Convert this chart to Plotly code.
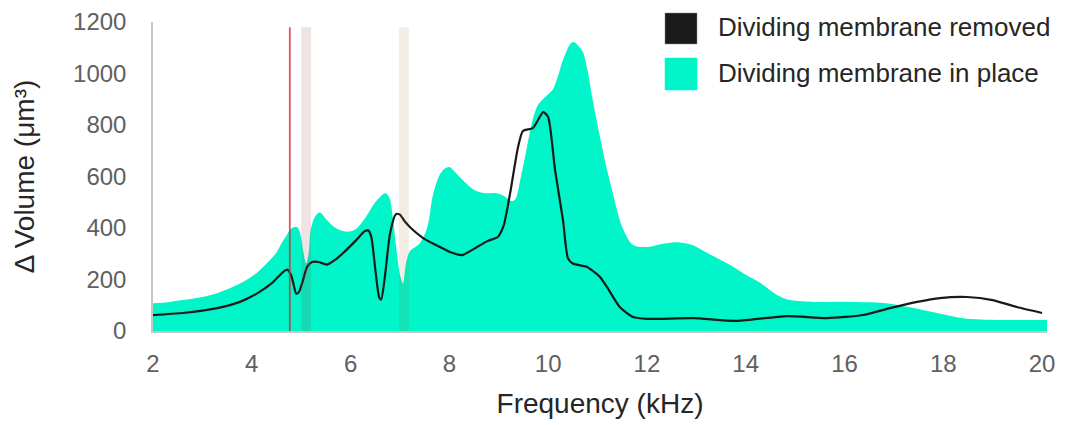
import plotly.graph_objects as go

# ---------------------------------------------------------------
# Data: frequency response of the volume change (Δ Volume, µm³)
# ---------------------------------------------------------------
# Dividing membrane in place (filled area)
freq_in_place = [
    2.0, 2.3, 2.6, 3.0, 3.3, 3.6, 3.8, 4.0, 4.1, 4.3, 4.5, 4.6, 4.7, 4.8, 4.9,
    4.95, 5.0, 5.05, 5.1, 5.15, 5.2, 5.3, 5.38, 5.5, 5.7, 5.95, 6.1, 6.3, 6.5,
    6.7, 6.78, 6.85, 6.92, 7.0, 7.06, 7.12, 7.2, 7.4, 7.55, 7.67, 7.8, 7.9, 8.0,
    8.1, 8.25, 8.5, 8.75, 8.96, 9.1, 9.25, 9.33, 9.45, 9.57, 9.7, 9.8, 9.98,
    10.1, 10.2, 10.3, 10.45, 10.52, 10.62, 10.7, 10.8, 10.9, 11.05, 11.2, 11.31,
    11.5, 11.72, 12.0, 12.3, 12.6, 12.9, 13.3, 13.75, 14.0, 14.3, 14.63, 14.9,
    15.4, 16.1, 16.8, 17.3, 17.87, 18.4, 19.15, 20.1,
]
vol_in_place = [
    108, 112, 120, 132, 147, 170, 188, 212, 225, 262, 305, 340, 370, 398, 405,
    395, 360, 300, 262, 300, 400, 450, 460, 435, 400, 385, 395, 440, 500,
    535, 520, 450, 330, 220, 185, 260, 310, 340, 400, 530, 605, 630, 637,
    620, 590, 548, 535, 535, 525, 505, 510, 600, 714, 830, 880, 916,
    940, 990, 1052, 1115, 1122, 1105, 1085, 1010, 900, 753, 620, 535,
    404, 334, 326, 338, 345, 335, 295, 249, 218, 186, 140, 120,
    113, 113, 109, 93, 70, 50, 43, 43,
]

# Dividing membrane removed (black line)
freq_removed = [
    2.0, 2.6, 3.3, 3.76, 4.15, 4.43, 4.63, 4.72, 4.8, 4.9, 4.95, 5.02, 5.12,
    5.22, 5.35, 5.52, 5.7, 5.85, 6.1, 6.29, 6.36, 6.42, 6.5, 6.58, 6.62, 6.7,
    6.8, 6.92, 7.0, 7.1, 7.2, 7.47, 7.81, 8.01, 8.26, 8.56, 8.78, 8.98, 9.1,
    9.23, 9.39, 9.49, 9.69, 9.9, 10.0, 10.14, 10.3, 10.4, 10.5, 10.79, 10.85,
    11.05, 11.19, 11.45, 11.72, 12.0, 12.93, 13.82, 14.83, 15.64, 16.37, 16.92,
    17.47, 17.93, 18.48, 19.0, 19.49, 20.0,
]
vol_removed = [
    62, 70, 89, 113, 151, 190, 229, 238, 215, 145, 150, 186, 249,
    268, 268, 258, 278, 303, 350, 388, 390, 365, 240, 130, 122, 220,
    380, 454, 452, 425, 404, 361, 326, 307, 295, 326, 350, 365, 410,
    535, 714, 777, 788, 850, 831, 625, 431, 283, 262, 249, 241,
    210, 171, 93, 54, 47, 50, 39, 58, 50, 62, 89,
    113, 128, 132, 120, 93, 70,
]

# Marked frequencies (kHz)
marker_freq = 4.77
band_ranges = [(5.0, 5.2), (6.98, 7.18)]
band_colors = ["rgba(155,68,68,0.15)", "rgba(163,105,38,0.12)"]
band_top = 1180

legend_labels = ["Dividing membrane removed", "Dividing membrane in place"]

x_ticks = [2, 4, 6, 8, 10, 12, 14, 16, 18, 20]
y_ticks = [0, 200, 400, 600, 800, 1000, 1200]

TEAL = "#00F5C9"
LINE_BLACK = "#1a1a1a"
FONT = "Arial, Liberation Sans, sans-serif"

# Figure geometry
W, H = 1068, 425
M_L, M_R, M_T, M_B = 153, 21, 22, 94
PLOT_W = W - M_L - M_R
PLOT_H = H - M_T - M_B


def paper_x(px):
    return (px - M_L) / PLOT_W


def paper_y(py):
    return (H - M_B - py) / PLOT_H


fig = go.Figure()

fig.add_trace(go.Scatter(
    x=freq_in_place, y=vol_in_place,
    mode="lines", fill="tozeroy",
    fillcolor=TEAL,
    line=dict(width=0, color=TEAL, shape="spline", smoothing=0.9),
    name=legend_labels[1], showlegend=False, hoverinfo="skip",
))

fig.add_trace(go.Scatter(
    x=freq_removed, y=vol_removed,
    mode="lines",
    line=dict(width=2.2, color=LINE_BLACK, shape="spline", smoothing=0.6),
    name=legend_labels[0], showlegend=False, hoverinfo="skip",
))

shapes = []
for (x0, x1), col in zip(band_ranges, band_colors):
    shapes.append(dict(type="rect", xref="x", yref="y", x0=x0, x1=x1,
                       y0=0, y1=band_top, fillcolor=col, line=dict(width=0),
                       layer="above"))
shapes.append(dict(type="line", xref="x", yref="y", x0=marker_freq,
                   x1=marker_freq, y0=0, y1=band_top,
                   line=dict(color="rgba(215,45,45,0.8)", width=1.8),
                   layer="above"))

# Legend: large square swatches with labels
legend_colors = [LINE_BLACK, TEAL]
legend_rows = [(13, 44), (58, 90)]
annotations = []
for label, col, (top, bottom) in zip(legend_labels, legend_colors, legend_rows):
    shapes.append(dict(type="rect", xref="paper", yref="paper",
                       x0=paper_x(665), x1=paper_x(697),
                       y0=paper_y(bottom), y1=paper_y(top),
                       fillcolor=col, line=dict(width=0.5, color="#8a8a8a" if col == LINE_BLACK else col)))
    annotations.append(dict(xref="paper", yref="paper",
                            x=paper_x(716), y=paper_y((top + bottom) / 2 - 1),
                            xanchor="left", yanchor="middle", showarrow=False,
                            text=label, font=dict(family=FONT, size=26, color="#262626")))

fig.update_layout(
    width=W, height=H,
    margin=dict(l=M_L, r=M_R, t=M_T, b=M_B, autoexpand=False),
    paper_bgcolor="white", plot_bgcolor="white",
    shapes=shapes, annotations=annotations,
    showlegend=False,
    font=dict(family=FONT),
)

fig.update_xaxes(
    range=[2, 20.1], tickvals=x_ticks, ticktext=[str(v) for v in x_ticks],
    showgrid=False, zeroline=False, ticks="",
    showline=True, linecolor="#c6c6c6", linewidth=1.5,
    tickfont=dict(family=FONT, size=24, color="#606060"),
    ticklabelstandoff=10,
    title=dict(text="Frequency (kHz)", standoff=18,
               font=dict(family=FONT, size=28, color="#262626")),
    automargin=False,
)

fig.update_yaxes(
    range=[0, 1200], tickvals=y_ticks, ticktext=[str(v) for v in y_ticks],
    showgrid=False, zeroline=False, ticks="",
    showline=True, linecolor="#c6c6c6", linewidth=1.5,
    tickfont=dict(family=FONT, size=24, color="#606060"),
    ticklabelstandoff=20,
    title=dict(text="Δ Volume (μm³)", standoff=30,
               font=dict(family=FONT, size=28, color="#262626")),
    automargin=False,
)

fig.write_html("out.html")
